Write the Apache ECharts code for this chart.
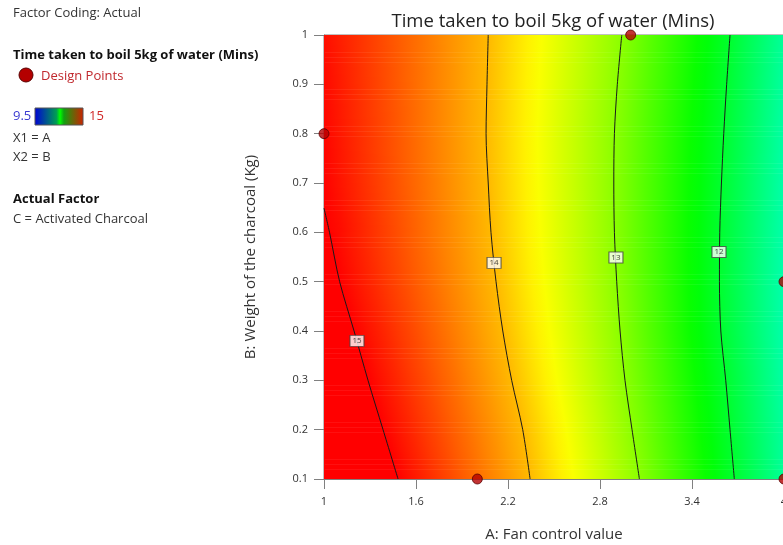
<!DOCTYPE html>
<html>
<head>
<meta charset="utf-8">
<title>Time taken to boil 5kg of water</title>
<script src="https://cdn.jsdelivr.net/npm/echarts@6/dist/echarts.min.js"></script>
<style>
  html, body { margin: 0; padding: 0; background: #fff; }
  #chart { width: 783px; height: 545px; }
</style>
</head>
<body>
<div id="chart"></div>
<script>
// B levels (charcoal weight, Kg) at which the contour crossings were read
const rowB = [1.0, 0.9, 0.8, 0.7, 0.6, 0.5, 0.4, 0.3, 0.2, 0.1];
// A value (fan control) where each contour crosses the row, null = off the plot
const cross15 = [null, null, null, null, 1.036, 1.102, 1.196, 1.287, 1.385, 1.483];
const cross14 = [2.071, 2.063, 2.057, 2.071, 2.089, 2.122, 2.166, 2.224, 2.296, 2.344];
const cross13 = [2.942, 2.913, 2.894, 2.89, 2.894, 2.909, 2.931, 2.963, 3.009, 3.057];
const cross12 = [3.648, 3.626, 3.607, 3.592, 3.581, 3.579, 3.588, 3.62, 3.648, 3.676];
// where the 15 contour leaves the left edge [A, B]
const start15 = [1.0, 0.649];
// response at the left (A = 1) and right (A = 4) edges of each row
const edgeLeft = [14.93, 14.95, 14.97, 14.99, 15.04, 15.1, 15.18, 15.28, 15.38, 15.48];
const edgeRight = [11.42, 11.39, 11.36, 11.34, 11.33, 11.32, 11.33, 11.36, 11.4, 11.43];

const contourLevels = [15, 14, 13, 12];
// label boxes on the contours: [A, B, level]
const contourLabels = [[1.215, 0.38, '15'], [2.109, 0.538, '14'], [2.904, 0.549, '13'], [3.576, 0.56, '12']];
// design points: [A, B]
const designPoints = [[3, 1], [1, 0.8], [2, 0.1], [4, 0.5], [4, 0.1]];

const xTicks = { min: 1, max: 4, interval: 0.6 };
const yTicks = { min: 0.1, max: 1, interval: 0.1 };
const scaleRange = [9.5, 15];
const scaleColors = ['#0000ff', '#00ffff', '#00ff00', '#ffff00', '#ff0000'];

const FONT = '"Open Sans", "Noto Sans", sans-serif';

function valueColor(v) {
  const t = Math.min(1, Math.max(0, (v - scaleRange[0]) / (scaleRange[1] - scaleRange[0])));
  return echarts.color.lerp(t, scaleColors);
}

// knots [A, value] along one row
function rowKnots(i) {
  const k = [[xTicks.min, edgeLeft[i]]];
  if (cross15[i] != null) k.push([cross15[i], 15]);
  k.push([cross14[i], 14], [cross13[i], 13], [cross12[i], 12], [xTicks.max, edgeRight[i]]);
  return k;
}

// gradient stops for a sub-strip between row i and i+1 (t = 0..1)
function stripStops(i, t) {
  let a = rowKnots(i), b = rowKnots(i + 1);
  if (a.length !== b.length) {
    // drop the 15 crossing where it only exists on one side
    a = a.filter((p, j) => !(j === 1 && a.length > b.length));
    b = b.filter((p, j) => !(j === 1 && b.length > a.length));
  }
  const knots = a.map((p, j) => [p[0] + (b[j][0] - p[0]) * t, p[1] + (b[j][1] - p[1]) * t]);
  const stops = [];
  const span = xTicks.max - xTicks.min;
  for (let j = 0; j < knots.length - 1; j++) {
    const [x0, v0] = knots[j], [x1, v1] = knots[j + 1];
    const m = 10;
    for (let s = 0; s <= m; s++) {
      const f = s / m;
      const off = Math.min(1, Math.max(0, (x0 + (x1 - x0) * f - xTicks.min) / span));
      stops.push({ offset: off, color: valueColor(v0 + (v1 - v0) * f) });
    }
  }
  return stops;
}

const bands = rowB.slice(0, -1).map((b, i) => [b, rowB[i + 1], i]);

function renderBand(params, api) {
  const bTop = api.value(0), bBot = api.value(1), i = api.value(2);
  const n = 20;
  const children = [];
  for (let k = 0; k < n; k++) {
    const b0 = bTop + (bBot - bTop) * k / n;
    const b1 = bTop + (bBot - bTop) * (k + 1) / n;
    const p0 = api.coord([xTicks.min, b0]);
    const p1 = api.coord([xTicks.max, b1]);
    children.push({
      type: 'rect',
      silent: true,
      shape: { x: p0[0], y: p0[1], width: p1[0] - p0[0], height: p1[1] - p0[1] + 0.6 },
      style: { fill: new echarts.graphic.LinearGradient(0, 0, 1, 0, stripStops(i, (k + 0.5) / n)) }
    });
  }
  return { type: 'group', children };
}

const crossings = { 15: cross15, 14: cross14, 13: cross13, 12: cross12 };
const contourSeries = contourLevels.map(level => {
  const pts = level === 15 ? [start15] : [];
  crossings[level].forEach((a, i) => { if (a != null) pts.push([a, rowB[i]]); });
  return {
    type: 'line',
    name: 'contour ' + level,
    data: pts,
    smooth: 0.3,
    showSymbol: false,
    symbol: 'none',
    lineStyle: { color: '#1a1a1a', width: 1 },
    silent: true,
    z: 3
  };
});

const chart = echarts.init(document.getElementById('chart'), null, { renderer: 'canvas' });

const axisCommon = {
  type: 'value',
  nameLocation: 'middle',
  nameTextStyle: { fontFamily: FONT, fontSize: 15, color: '#333' },
  axisLine: { show: true, lineStyle: { color: '#808080' } },
  axisTick: { show: true, inside: false, length: 10, lineStyle: { color: '#808080' } },
  axisLabel: { fontFamily: FONT, fontSize: 11, color: '#333' },
  splitLine: { show: false }
};

// left-hand legend panel: one text line per entry
function panelText(text, y, opts) {
  return Object.assign({
    type: 'text', x: 13, y: y,
    style: { text: text, font: '13px ' + FONT, fill: '#333', verticalAlign: 'middle' }
  }, opts || {});
}

chart.setOption({
  backgroundColor: '#fff',
  animation: false,
  title: {
    text: 'Time taken to boil 5kg of water (Mins)',
    left: 548,
    top: 7,
    textAlign: 'center',
    textStyle: { fontFamily: FONT, fontSize: 18.5, fontWeight: 'normal', color: '#222' }
  },
  grid: {
    left: 324, top: 35, width: 460, height: 444,
    containLabel: false, outerBoundsMode: 'none',
    show: true, borderColor: '#808080', borderWidth: 1, backgroundColor: 'transparent'
  },
  xAxis: Object.assign({}, axisCommon, {
    min: xTicks.min, max: xTicks.max, interval: xTicks.interval,
    name: 'A: Fan control value', nameGap: 48,
    axisLabel: Object.assign({}, axisCommon.axisLabel, { margin: 17, showMaxLabel: true })
  }),
  yAxis: Object.assign({}, axisCommon, {
    min: yTicks.min, max: yTicks.max, interval: yTicks.interval,
    name: 'B: Weight of the charcoal (Kg)', nameGap: 66,
    axisLabel: Object.assign({}, axisCommon.axisLabel, { margin: 16 })
  }),
  series: [
    {
      type: 'custom',
      name: 'response',
      data: bands,
      renderItem: renderBand,
      clip: true,
      silent: true,
      z: 1
    },
    ...contourSeries,
    {
      type: 'scatter',
      name: 'contour labels',
      data: contourLabels,
      symbol: 'rect',
      symbolSize: [14, 11],
      itemStyle: { color: '#fff', borderColor: '#444', borderWidth: 1 },
      label: { show: true, position: 'inside', formatter: p => p.value[2], fontFamily: FONT, fontSize: 8, color: '#111' },
      silent: true,
      z: 4
    },
    {
      type: 'scatter',
      name: 'Design Points',
      data: designPoints,
      symbolSize: 10,
      clip: false,
      itemStyle: { color: '#b40000', borderColor: '#5a0000', borderWidth: 1 },
      z: 5
    }
  ],
  graphic: [
    panelText('Factor Coding: Actual', 13),
    panelText('Time taken to boil 5kg of water (Mins)', 55, { style: { text: 'Time taken to boil 5kg of water (Mins)', font: 'bold 13px ' + FONT, fill: '#111', verticalAlign: 'middle' } }),
    { type: 'circle', shape: { cx: 26, cy: 75, r: 7 }, style: { fill: '#b40000', stroke: '#5a0000', lineWidth: 1 } },
    panelText('Design Points', 76, { x: 41, style: { text: 'Design Points', font: '13px ' + FONT, fill: '#c0282d', verticalAlign: 'middle' } }),
    panelText('9.5', 116, { style: { text: '9.5', font: '13px ' + FONT, fill: '#3a3ad0', verticalAlign: 'middle' } }),
    {
      type: 'rect',
      shape: { x: 35, y: 108, width: 48, height: 17 },
      style: {
        stroke: '#555',
        lineWidth: 1,
        fill: new echarts.graphic.LinearGradient(0, 0, 1, 0, [
          { offset: 0, color: '#0000d8' },
          { offset: 0.45, color: '#00a050' },
          { offset: 0.52, color: '#00ff00' },
          { offset: 0.6, color: '#10a010' },
          { offset: 1, color: '#d02000' }
        ])
      }
    },
    panelText('15', 116, { x: 89, style: { text: '15', font: '13px ' + FONT, fill: '#d02828', verticalAlign: 'middle' } }),
    panelText('X1 = A', 138),
    panelText('X2 = B', 157),
    panelText('Actual Factor', 199, { style: { text: 'Actual Factor', font: 'bold 13px ' + FONT, fill: '#111', verticalAlign: 'middle' } }),
    panelText('C = Activated Charcoal', 219)
  ]
});
</script>
</body>
</html>
